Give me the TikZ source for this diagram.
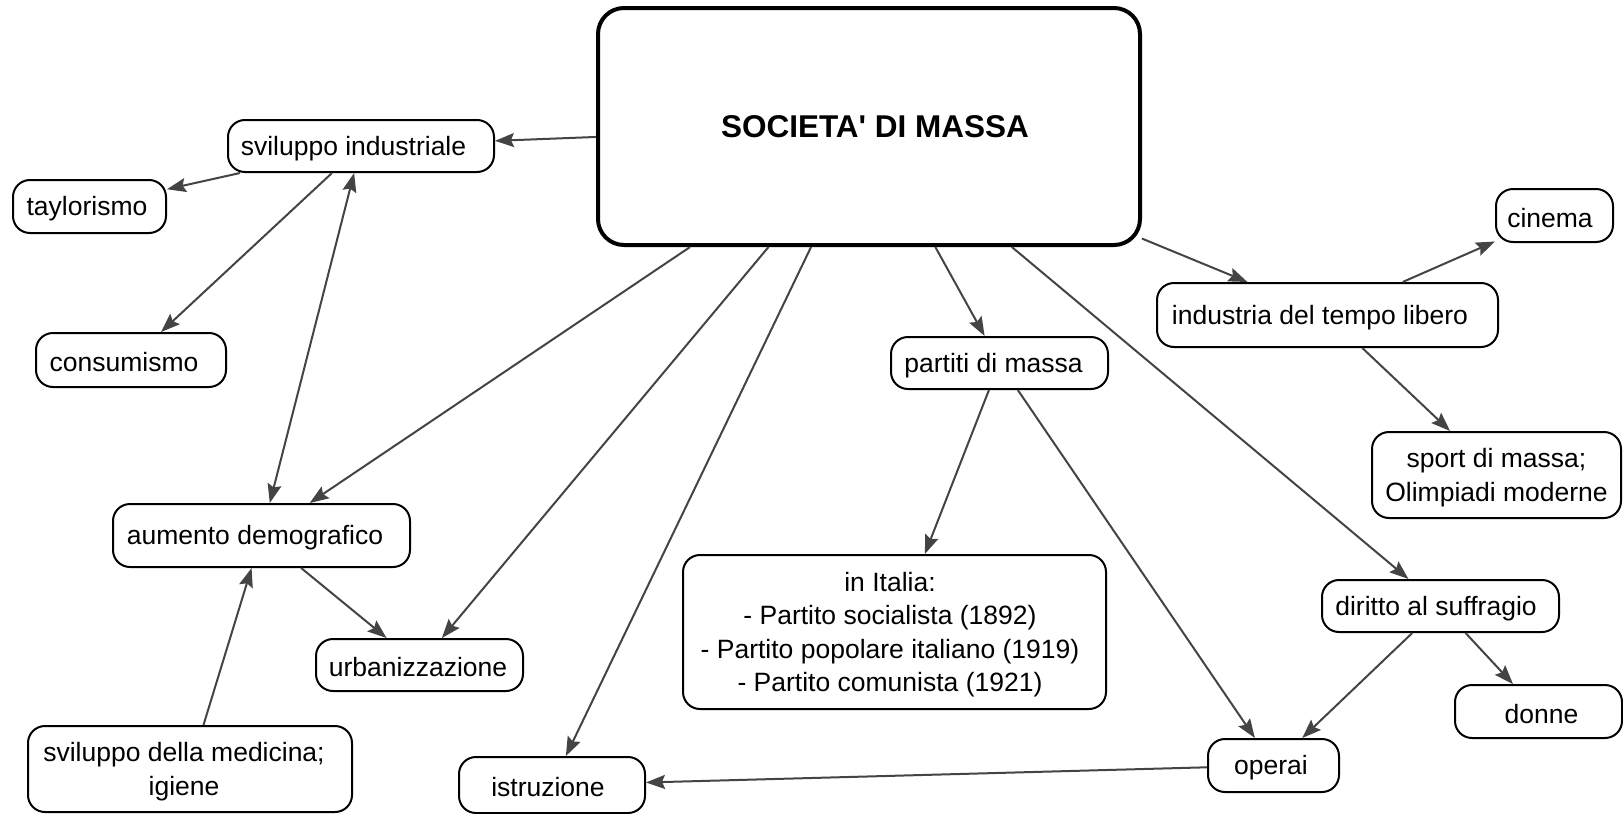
\documentclass[tikz,border=0pt]{standalone}
\usepackage{fontspec}
\setmainfont{Liberation Sans}
\usetikzlibrary{arrows.meta}
\definecolor{edgecol}{HTML}{444444}
\tikzset{
  cbox/.style={draw=black, line width=2pt, rounded corners=17pt, fill=white, inner sep=0pt},
  mainbox/.style={draw=black, line width=4pt, rounded corners=26pt, fill=white, inner sep=0pt},
  lbl/.style={font=\fontsize{26.5}{33.5}\selectfont, align=center, inner sep=0pt, yshift=-2.5pt},
  titlelbl/.style={font=\fontsize{31.5}{36}\selectfont\bfseries, inner sep=0pt},
  conn/.style={draw=edgecol, line width=2pt, -{Stealth[length=19pt,width=14pt,inset=3pt]}},
  conn2/.style={draw=edgecol, line width=2pt, {Stealth[length=19pt,width=14pt,inset=3pt]}-{Stealth[length=19pt,width=14pt,inset=3pt]}},
}
\begin{document}
\begin{tikzpicture}[x=1pt,y=-1pt]
\useasboundingbox (0,0) rectangle (1623,814);

\node[mainbox, minimum width=542pt, minimum height=237pt,
  label={[titlelbl,xshift=6pt]center:SOCIETA\textquotesingle{} DI MASSA}] (main) at (869,126.5) {};

\node[cbox, minimum width=266pt, minimum height=52pt,
  label={[lbl,xshift=-7.5pt]center:sviluppo industriale}] (svil) at (361,146) {};
\node[cbox, minimum width=153pt, minimum height=53pt,
  label={[lbl,xshift=-2.5pt]center:taylorismo}] (taylor) at (89.5,206.5) {};
\node[cbox, minimum width=190pt, minimum height=54pt,
  label={[lbl,xshift=-7pt]center:consumismo}] (consum) at (131,360) {};
\node[cbox, minimum width=297pt, minimum height=63pt,
  label={[lbl,xshift=-6.5pt]center:aumento demografico}] (aum) at (261.5,535.5) {};
\node[cbox, minimum width=207pt, minimum height=52pt,
  label={[lbl,xshift=-1.5pt]center:urbanizzazione}] (urban) at (419.5,665) {};
\node[cbox, minimum width=324pt, minimum height=86pt,
  label={[lbl,xshift=-6pt]center:{sviluppo della medicina;\\igiene}}] (medic) at (190,769) {};
\node[cbox, minimum width=186pt, minimum height=56pt,
  label={[lbl,xshift=-4pt]center:istruzione}] (istr) at (552,785) {};
\node[cbox, minimum width=217pt, minimum height=52pt,
  label={[lbl,xshift=-6pt]center:partiti di massa}] (partiti) at (999.5,363) {};
\node[cbox, minimum width=423pt, minimum height=154pt,
  label={[lbl,xshift=-4.5pt]center:{in Italia:\\- Partito socialista (1892)\\- Partito popolare italiano (1919)\\- Partito comunista (1921)}}] (italia) at (894.5,632) {};
\node[cbox, minimum width=341pt, minimum height=64pt,
  label={[lbl,xshift=-7.5pt]center:industria del tempo libero}] (industria) at (1327.5,315) {};
\node[cbox, minimum width=117pt, minimum height=53pt,
  label={[lbl,xshift=-4.5pt]center:cinema}] (cinema) at (1554.5,215.5) {};
\node[cbox, minimum width=249pt, minimum height=86pt,
  label={[lbl,xshift=0pt]center:{sport di massa;\\Olimpiadi moderne}}] (sport) at (1496.5,475) {};
\node[cbox, minimum width=237pt, minimum height=52pt,
  label={[lbl,xshift=-4.5pt]center:diritto al suffragio}] (diritto) at (1440.5,606) {};
\node[cbox, minimum width=167pt, minimum height=53pt,
  label={[lbl,xshift=3pt]center:donne}] (donne) at (1538.5,711.5) {};
\node[cbox, minimum width=131pt, minimum height=53pt,
  label={[lbl,xshift=-2.5pt]center:operai}] (operai) at (1273.5,765.5) {};

\draw[conn] (main) -- (svil);
\draw[conn] (svil) -- (taylor);
\draw[conn] (svil) -- (consum);
\draw[conn2] (svil) -- (aum);
\draw[conn] (main) -- (aum);
\draw[conn] (main) -- (urban);
\draw[conn] (main) -- (istr);
\draw[conn] (aum) -- (urban);
\draw[conn] (medic) -- (aum);
\draw[conn] (main) -- (partiti);
\draw[conn] (partiti) -- (italia);
\draw[conn] (partiti) -- (operai);
\draw[conn] (main) -- (diritto);
\draw[conn] (main) -- (industria);
\draw[conn] (industria) -- (cinema);
\draw[conn] (industria) -- (sport);
\draw[conn] (diritto) -- (operai);
\draw[conn] (diritto) -- (donne);
\draw[conn] (operai) -- (istr);
\end{tikzpicture}
\end{document}
